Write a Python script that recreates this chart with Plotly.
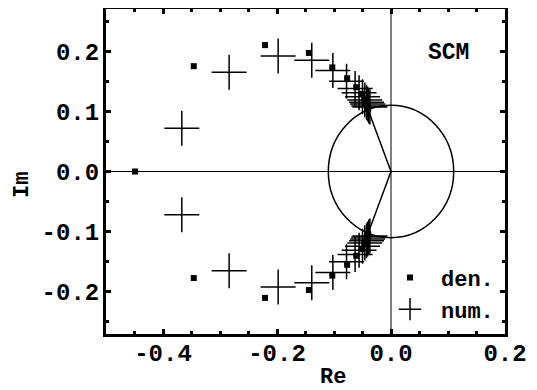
import plotly.graph_objects as go

# denominator roots (squares)
den_re = [-0.449, -0.346, -0.221, -0.144, -0.103, -0.077, -0.061, -0.052, -0.047, -0.044, -0.042, -0.041, -0.040,
          -0.346, -0.221, -0.144, -0.103, -0.077, -0.061, -0.052, -0.047, -0.044, -0.042, -0.041, -0.040]
den_im = [0.0, 0.175, 0.210, 0.197, 0.173, 0.155, 0.140, 0.129, 0.121, 0.115, 0.111, 0.107, 0.104,
          -0.177, -0.210, -0.197, -0.173, -0.155, -0.140, -0.129, -0.121, -0.115, -0.111, -0.107, -0.104]
# numerator roots (crosses)
num_re = [-0.367, -0.284, -0.198, -0.139, -0.102, -0.078, -0.063, -0.056, -0.050, -0.046, -0.043, -0.041, -0.039, -0.037,
          -0.367, -0.284, -0.198, -0.139, -0.102, -0.078, -0.063, -0.056, -0.050, -0.046, -0.043, -0.041, -0.039, -0.037]
num_im = [0.072, 0.165, 0.192, 0.185, 0.168, 0.150, 0.138, 0.131, 0.124, 0.119, 0.115, 0.112, 0.109, 0.107,
          -0.072, -0.165, -0.192, -0.185, -0.168, -0.150, -0.138, -0.131, -0.124, -0.119, -0.115, -0.112, -0.109, -0.107]

circle_r = 0.11
ray_re = [-0.040, 0.0, -0.040]
ray_im = [0.102, 0.0, -0.102]

x_ticks = [-0.4, -0.2, 0.0, 0.2]
x_labels = ["-0.4", "-0.2", "0.0", "0.2"]
y_ticks = [-0.2, -0.1, 0.0, 0.1, 0.2]
y_labels = ["-0.2", "-0.1", "0.0", "0.1", "0.2"]

FONT = "Liberation Mono"
PW, PH = 399, 325  # plot area size in px

fig = go.Figure()
fig.add_trace(go.Scatter(x=ray_re, y=ray_im, mode="lines", line=dict(color="black", width=1.5),
                         showlegend=False, hoverinfo="skip"))
fig.add_trace(go.Scatter(x=den_re, y=den_im, mode="markers", name="den.",
                         marker=dict(symbol="square", size=6, color="black")))
fig.add_trace(go.Scatter(x=num_re, y=num_im, mode="markers", name="num.",
                         marker=dict(symbol="cross-thin", size=25, color="black",
                                     line=dict(color="black", width=1.5))))

fig.add_shape(type="circle", xref="x", yref="y", x0=-circle_r, x1=circle_r, y0=-circle_r, y1=circle_r,
              line=dict(color="black", width=1.5), layer="below")
fig.add_shape(type="line", xref="paper", yref="y", x0=0, x1=1, y0=0, y1=0,
              line=dict(color="black", width=1), layer="below")
fig.add_shape(type="line", xref="x", yref="paper", x0=0, x1=0, y0=0, y1=1,
              line=dict(color="black", width=1), layer="below")

fig.add_annotation(text="<b>SCM</b>", x=(448 - 106) / PW, y=(333 - 52) / PH, xref="paper", yref="paper",
                   xanchor="center", yanchor="middle", showarrow=False,
                   font=dict(family=FONT, size=23, color="black"))
fig.add_annotation(text="<b>Re</b>", x=(333 - 106) / PW, y=(333 - 376) / PH, xref="paper", yref="paper",
                   xanchor="center", yanchor="middle", showarrow=False,
                   font=dict(family=FONT, size=22, color="black"))
fig.add_annotation(text="<b>Im</b>", x=(22 - 106) / PW, y=(333 - 184) / PH, xref="paper", yref="paper",
                   xanchor="center", yanchor="middle", showarrow=False, textangle=-90,
                   font=dict(family=FONT, size=22, color="black"))

axis_common = dict(showgrid=False, zeroline=False, showline=True, linecolor="black", linewidth=3,
                   mirror="ticks", ticks="inside", ticklen=5, tickwidth=2.5, tickcolor="black",
                   automargin=False,
                   tickfont=dict(family=FONT, size=24, color="black", weight="bold"),
                   minor=dict(ticks="inside", ticklen=3, tickwidth=2.5, tickcolor="black", dtick=0.05))

# page body adds an 8px offset; margins compensate so the plot area lands at x 106-505, y 8-333
fig.update_layout(
    width=537, height=390,
    margin=dict(l=98, r=537 - 98 - PW, t=1, b=390 - 1 - PH),
    paper_bgcolor="white", plot_bgcolor="white",
    xaxis=dict(range=[-0.5, 0.2], tickvals=x_ticks, ticktext=x_labels, ticklabelstandoff=-5, **axis_common),
    yaxis=dict(range=[-0.27, 0.27], tickvals=y_ticks, ticktext=y_labels, ticklabelstandoff=-1, **axis_common),
    legend=dict(x=0.985, y=0.01, xanchor="right", yanchor="bottom", bgcolor="rgba(0,0,0,0)",
                font=dict(family=FONT, size=22, color="black", weight="bold"), itemsizing="trace",
                itemwidth=52, tracegroupgap=0),
)
fig.write_html("out.html")
